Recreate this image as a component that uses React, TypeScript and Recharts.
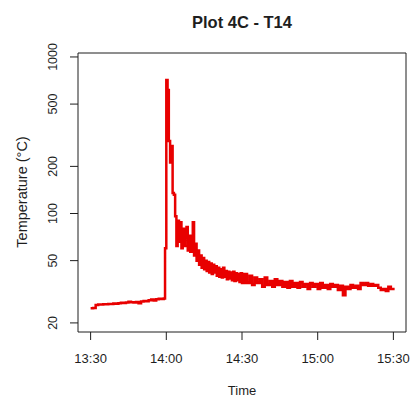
import { LineChart, Line, XAxis, YAxis } from "recharts";

// sample times are minutes after 13:30
const preBurnStart = 0;
const preBurnStep = 1;
const preBurn = [
  24.8, 24.9, 26.0, 26.2, 26.2, 26.3, 26.3, 26.4, 26.4, 26.6,
  26.5, 26.7, 26.9, 26.8, 27.0, 27.3, 27.1, 27.0, 27.2, 26.7,
  27.4, 27.6, 27.5, 27.9, 28.2, 27.8, 28.3, 28.5, 28.4, 28.6,
];

const spikeStart = 29.5;
const spikeStep = 0.5;
const spike = [
  60, 713, 615, 290, 212, 270, 135, 132, 96, 62,
  90, 66, 88, 60, 80, 62, 74, 82, 58, 72,
  57, 68, 88, 54, 64, 50, 58, 47, 54, 45,
  52, 44, 50, 43, 49, 42, 48, 41, 47, 42,
  46, 40, 45, 39.5, 44, 39, 45, 39.5, 43, 38,
  42.5, 38.5, 42, 37.5, 42.5, 37, 41.5, 37.5, 41, 36.5,
  41.5, 36,
];

const tailStart = 61;
const tailStep = 1;
const tail = [
  41, 36, 40, 35, 39, 36, 38, 34, 39, 35,
  37, 34, 38, 35, 37, 34, 36.5, 33.5, 37, 34,
  36, 33.5, 36.5, 34, 35.5, 33, 36, 34, 35.5, 33,
  36, 33.5, 35, 33, 35.5, 34, 35, 32.5, 34.5, 30,
  34, 33, 35, 33.5, 34.5, 33, 36, 35, 36, 34.5,
  35.5, 34.5, 35, 33.5, 32.5, 33, 32, 34, 33, 33.5,
];

const xTicks = [0, 30, 60, 90, 120];
const xTickLabels = ["13:30", "14:00", "14:30", "15:00", "15:30"];
const yTicks = [20, 50, 100, 200, 500, 1000];

const segment = (start: number, step: number, values: number[]) =>
  values.map((temp, i) => ({ t: start + i * step, temp }));

const data = [
  ...segment(preBurnStart, preBurnStep, preBurn),
  ...segment(spikeStart, spikeStep, spike),
  ...segment(tailStart, tailStep, tail),
];

const FONT = "'Liberation Sans', Arial, sans-serif";
const INK = "#1e1e1e";

function XTick({ x, y, payload }: any) {
  const idx = xTicks.indexOf(payload.value);
  return (
    <text x={x} y={y + 21} textAnchor="middle" fontSize={13} fill={INK} fontFamily={FONT}>
      {xTickLabels[idx]}
    </text>
  );
}

function YTick({ x, y, payload }: any) {
  const bx = x - 11;
  return (
    <text
      x={bx}
      y={y}
      transform={`rotate(-90, ${bx}, ${y})`}
      textAnchor="middle"
      fontSize={12.5}
      fill={INK}
      fontFamily={FONT}
    >
      {payload.value}
    </text>
  );
}

export default function App() {
  return (
    <div style={{ position: "absolute", left: 0, top: 0, width: 411, height: 399, background: "#fff" }}>
      <LineChart
        width={411}
        height={399}
        data={data}
        margin={{ top: 52, right: 4, bottom: 0, left: 0 }}
      >
        <XAxis
          dataKey="t"
          type="number"
          domain={[-5, 125]}
          ticks={xTicks}
          tick={<XTick />}
          tickSize={8}
          height={67}
          stroke={INK}
          allowDataOverflow
        />
        <XAxis
          xAxisId="top"
          orientation="top"
          dataKey="t"
          type="number"
          domain={[-5, 125]}
          tick={false}
          tickLine={false}
          height={1}
          stroke={INK}
        />
        <YAxis
          dataKey="temp"
          scale="log"
          type="number"
          domain={[17.5, 1060]}
          ticks={yTicks}
          tick={<YTick />}
          tickSize={8}
          width={78}
          stroke={INK}
          allowDataOverflow
        />
        <YAxis
          yAxisId="right"
          orientation="right"
          dataKey="temp"
          type="number"
          tick={false}
          tickLine={false}
          width={1}
          stroke={INK}
        />
        <Line
          type="stepAfter"
          dataKey="temp"
          stroke="#e80000"
          strokeWidth={2.5}
          dot={false}
          activeDot={false}
          isAnimationActive={false}
        />
      </LineChart>
      <svg
        width={411}
        height={399}
        style={{ position: "absolute", left: 0, top: 0, pointerEvents: "none" }}
      >
        <text x={242} y={28} textAnchor="middle" fontSize={16.5} fontWeight="bold" fill={INK} fontFamily={FONT}>
          Plot 4C - T14
        </text>
        <text x={242} y={395} textAnchor="middle" fontSize={13} fill={INK} fontFamily={FONT}>
          Time
        </text>
        <text
          x={27}
          y={192}
          transform="rotate(-90, 27, 192)"
          textAnchor="middle"
          fontSize={14.5}
          fill={INK}
          fontFamily={FONT}
        >
          Temperature (°C)
        </text>
      </svg>
    </div>
  );
}
